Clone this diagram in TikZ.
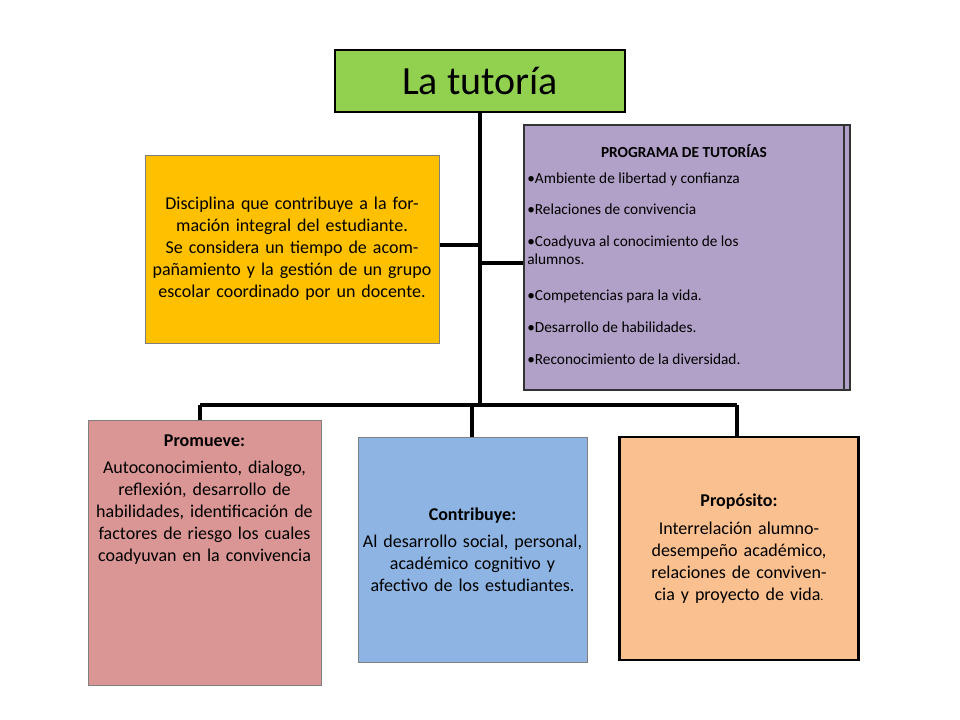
\documentclass[tikz,border=0pt]{standalone}
\usepackage{fontspec}
\setmainfont{Carlito}
\definecolor{cgreen}{RGB}{146,208,80}
\definecolor{corange}{RGB}{255,192,0}
\definecolor{cpurple}{RGB}{177,160,199}
\definecolor{cpink}{RGB}{218,150,148}
\definecolor{cblue}{RGB}{141,180,226}
\definecolor{cpeach}{RGB}{250,192,144}
\begin{document}
\begin{tikzpicture}[x=0.75pt,y=-0.75pt,
 conn/.style={line width=2.4pt,black},
 txt/.style={align=center,font=\fontsize{13.5}{16.5}\selectfont}]
\useasboundingbox[fill=white] (0,0) rectangle (960,720);
% connectors
\coordinate (c1) at (480,245); \coordinate (c2) at (480,263);
\coordinate (b0) at (200,405); \coordinate (b1) at (472,405); \coordinate (b2) at (737,405);
\draw[conn] (480,112) -- (480,405);
\draw[conn] (437,245) -- (c1);
\draw[conn] (c2) -- (524,263);
\draw[conn] (b0) -- (b2);
\draw[conn] (b0) -- (200,420);
\draw[conn] (b1) -- (472,437);
\draw[conn] (b2) -- (737,437);
% title
\node[draw=black,line width=2.2pt,fill=cgreen,minimum width=290*0.75pt,minimum height=62*0.75pt,font=\fontsize{30}{34}\selectfont] (t) at (480,81) {La tutoría};
% orange
\node[draw=gray,fill=corange,minimum width=290*0.75pt,minimum height=188*0.75pt,txt,text width=285*0.75pt] (o) at (292,249) {Disciplina que contribuye a la formación integral del estudiante. Se considera un tiempo de acompañamiento y la gestión de un grupo escolar coordinado por un docente.};
% purple
\fill[cpurple] (524,125) rectangle (850,390);
\draw[line width=0.8pt,black!80] (524,125) rectangle (850,390);
\draw[line width=1.2pt,black!80] (844,125) -- (844,390);
\node[anchor=north,font=\bfseries\fontsize{11.5}{13}\selectfont] (ph) at (684,140) {PROGRAMA DE TUTORÍAS};
\begin{scope}[every node/.style={anchor=north west,font=\fontsize{11.5}{13.5}\selectfont,inner sep=0pt}]
\node (p1) at (527,173) {•Ambiente de libertad y confianza};
\node (p2) at (527,204) {•Relaciones de convivencia};
\node[align=left] (p3) at (527,236) {•Coadyuva al conocimiento de los\\alumnos.};
\node (p4) at (527,290) {•Competencias para la vida.};
\node (p5) at (527,322) {•Desarrollo de habilidades.};
\node (p6) at (527,354) {•Reconocimiento de la diversidad.};
\end{scope}
% pink
\node[draw=gray,fill=cpink,minimum width=233*0.75pt,minimum height=265*0.75pt] (pk) at (204.5,552.5) {};
\node[txt,anchor=north,text width=228*0.75pt] (pkt) at (204.5,430) {\textbf{Promueve:}\\[4pt]Autoconocimiento, dialogo, reflexión, desarrollo de habilidades, identificación de factores de riesgo los cuales coadyuvan en la convivencia};
% blue
\node[draw=gray,fill=cblue,minimum width=225*0.75pt,minimum height=225*0.75pt,txt,text width=220*0.75pt] (bl) at (472.5,549.5) {\textbf{Contribuye:}\\[4pt]Al desarrollo social, personal, académico cognitivo y afectivo de los estudiantes.};
% peach
\node[draw=black,line width=1.6pt,fill=cpeach,minimum width=234*0.75pt,minimum height=223*0.75pt,txt,text width=230*0.75pt] (pc) at (739,548.5) {\textbf{Propósito:}\\[4pt]Interrelación alumno-desempeño académico, relaciones de convivencia y proyecto de vida{\small.}};
\end{tikzpicture}
\end{document}
